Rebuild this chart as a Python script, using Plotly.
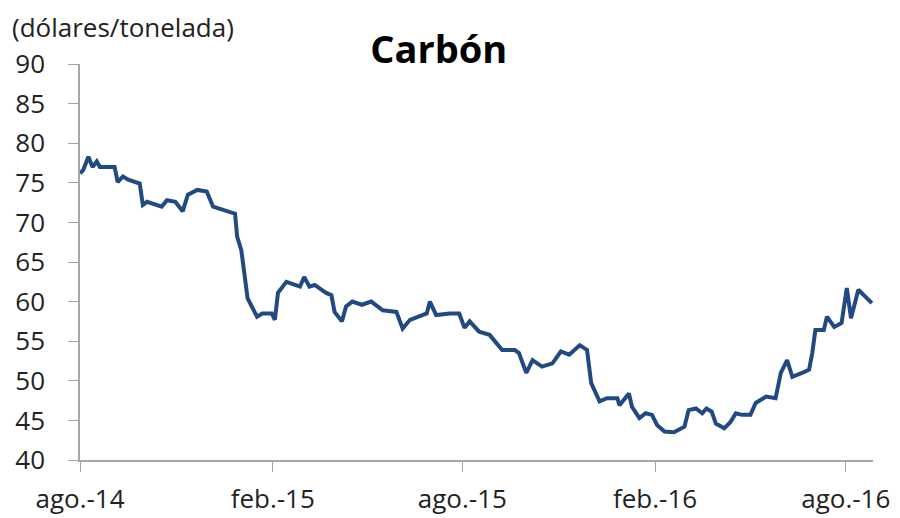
import plotly.graph_objects as go

# coal price, dollars per tonne
dates = ['2014-08-01', '2014-08-04', '2014-08-09', '2014-08-13', '2014-08-17', '2014-08-20',
         '2014-09-03', '2014-09-06', '2014-09-11', '2014-09-16', '2014-09-27', '2014-09-30',
         '2014-10-04', '2014-10-09', '2014-10-18', '2014-10-23', '2014-10-31', '2014-11-07',
         '2014-11-12', '2014-11-21', '2014-11-30', '2014-12-06', '2014-12-15', '2014-12-27',
         '2014-12-29', '2015-01-02', '2015-01-08', '2015-01-17', '2015-01-22', '2015-01-31',
         '2015-02-03', '2015-02-06', '2015-02-14', '2015-02-27', '2015-03-03', '2015-03-08',
         '2015-03-13', '2015-03-24', '2015-03-29', '2015-04-01', '2015-04-08', '2015-04-12',
         '2015-04-18', '2015-04-27', '2015-05-06', '2015-05-17', '2015-05-30', '2015-06-05',
         '2015-06-12', '2015-06-28', '2015-07-01', '2015-07-07', '2015-07-20', '2015-07-29',
         '2015-08-03', '2015-08-08', '2015-08-17', '2015-08-27', '2015-09-08', '2015-09-20',
         '2015-09-24', '2015-10-01', '2015-10-07', '2015-10-16', '2015-10-26', '2015-11-03',
         '2015-11-11', '2015-11-21', '2015-11-28', '2015-12-02', '2015-12-10', '2015-12-17',
         '2015-12-27', '2015-12-29', '2016-01-07', '2016-01-10', '2016-01-17', '2016-01-23',
         '2016-01-29', '2016-02-03', '2016-02-10', '2016-02-19', '2016-02-29', '2016-03-04',
         '2016-03-11', '2016-03-17', '2016-03-21', '2016-03-26', '2016-03-30', '2016-04-07',
         '2016-04-13', '2016-04-18', '2016-04-24', '2016-05-02', '2016-05-07', '2016-05-17',
         '2016-05-26', '2016-05-31', '2016-06-06', '2016-06-11', '2016-06-22', '2016-06-27',
         '2016-06-30', '2016-07-03', '2016-07-11', '2016-07-14', '2016-07-21', '2016-07-28',
         '2016-08-02', '2016-08-06', '2016-08-13', '2016-08-20', '2016-08-26']
prices = [76.2, 76.6, 78.3, 77.0, 77.7, 77.0,
          77.0, 75.1, 75.8, 75.4, 74.9, 72.2,
          72.6, 72.4, 72.0, 72.8, 72.6, 71.4,
          73.5, 74.1, 73.9, 72.0, 71.6, 71.1,
          68.2, 66.5, 60.4, 58.1, 58.5, 58.5,
          57.7, 61.1, 62.5, 61.9, 63.1, 61.9,
          62.1, 61.1, 60.8, 58.7, 57.5, 59.4,
          60.0, 59.6, 60.0, 58.9, 58.7, 56.6,
          57.7, 58.5, 60.0, 58.3, 58.5, 58.5,
          56.7, 57.5, 56.2, 55.8, 53.9, 53.9,
          53.5, 51.0, 52.6, 51.8, 52.2, 53.7,
          53.3, 54.5, 53.9, 49.7, 47.4, 47.8,
          47.8, 46.9, 48.4, 46.7, 45.3, 45.9,
          45.7, 44.4, 43.6, 43.5, 44.2, 46.3,
          46.5, 45.9, 46.5, 46.1, 44.6, 44.0,
          44.8, 45.9, 45.7, 45.7, 47.2, 48.0,
          47.8, 51.0, 52.6, 50.5, 51.1, 51.4,
          53.5, 56.4, 56.4, 58.1, 56.8, 57.3,
          61.7, 57.9, 61.5, 60.6, 59.8]

tick_dates = ['2014-08-01', '2015-02-01', '2015-08-01', '2016-02-01', '2016-08-01']
tick_text = ['ago.-14', 'feb.-15', 'ago.-15', 'feb.-16', 'ago.-16']
y_ticks = [40, 45, 50, 55, 60, 65, 70, 75, 80, 85, 90]

font = 'Open Sans, sans-serif'

fig = go.Figure()
fig.add_trace(go.Scatter(
    x=dates, y=prices, mode='lines',
    line=dict(color='#214a82', width=4),
    showlegend=False,
))

fig.update_xaxes(
    range=['2014-08-01', '2016-08-27'],
    tickvals=tick_dates, ticktext=tick_text,
    showgrid=False, zeroline=False, automargin=False,
    showline=True, linecolor='#a6a6a6', linewidth=1.5,
    ticks='outside', ticklen=10, tickcolor='#a6a6a6',
    ticklabelstandoff=5,
    tickfont=dict(size=26, color='#222222', family=font),
)
fig.update_yaxes(
    range=[40, 90], tickvals=y_ticks,
    showgrid=False, zeroline=False, automargin=False,
    showline=True, linecolor='#a6a6a6', linewidth=1.5,
    ticks='outside', ticklen=10, tickcolor='#a6a6a6',
    ticklabelstandoff=18,
    tickfont=dict(size=26, color='#222222', family=font),
)

# the page body has an 8px margin, so the figure is 8px smaller than the window
fig.update_layout(
    width=892, height=510,
    margin=dict(l=72, r=27, t=56, b=58),
    paper_bgcolor='white', plot_bgcolor='white',
    title=dict(text='<b>Carbón</b>', x=0.483, xanchor='center',
               y=0.918, yanchor='middle',
               font=dict(size=38, color='black', family=font)),
    annotations=[dict(
        text='(dólares/tonelada)', xref='paper', yref='paper',
        x=-0.088, y=1.042, xanchor='left', yanchor='bottom',
        showarrow=False, font=dict(size=26, color='#222222', family=font),
    )],
)

fig.write_html('out.html')
